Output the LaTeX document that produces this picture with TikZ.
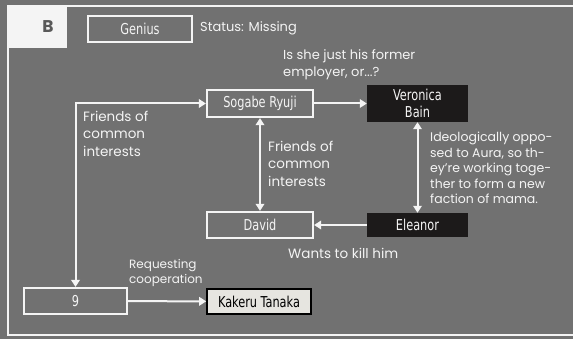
\documentclass[tikz,border=0pt]{standalone}
\usepackage{fontspec}
\setmainfont{Poppins}
\newfontfamily\boxfont[FakeStretch=0.84]{DejaVu Sans Condensed}
\usetikzlibrary{arrows.meta}
\definecolor{panelgray}{HTML}{717171}
\definecolor{inkwhite}{HTML}{F4F4F4}
\definecolor{boxblack}{HTML}{1C1A1A}
\definecolor{paleface}{HTML}{E6E5E0}
\tikzset{
  namebox/.style={draw=inkwhite, line width=2.2pt, text=inkwhite, minimum width=104pt,
    minimum height=26pt, inner sep=0pt, font=\boxfont\fontsize{15}{16}\selectfont},
  darkbox/.style={fill=boxblack, text=inkwhite, minimum width=101pt, inner sep=0pt,
    align=center, font=\boxfont\fontsize{15}{17}\selectfont},
  note/.style={text=inkwhite, anchor=west, align=left, inner sep=0pt},
  link/.style={draw=inkwhite, line width=2pt, -{Triangle[length=7pt,width=8.5pt]}},
  twoway/.style={link, {Triangle[length=7pt,width=8.5pt]}-{Triangle[length=7pt,width=8.5pt]}}
}
\begin{document}
\begin{tikzpicture}[x=1pt, y=-1pt]

% Panel
\fill [panelgray] (0,0) rectangle (573,339);
\useasboundingbox (0,0) rectangle (573,339);
\draw [inkwhite, line width=2pt] (573,6) -- (8,6) -- (8,335) -- (573,335);
\fill [inkwhite] (8,6) rectangle (67,48);
\node (tab) [text=black!65, font=\bfseries\fontsize{17}{17}\selectfont] at (48,27) {B};

% Header
\node (genius) [namebox] at (140,29) {Genius};
\node (status) [note, font=\fontsize{13}{15}\selectfont] at (200,28) {Status: Missing};
\node (question) [note, font=\fontsize{13}{17}\selectfont] at (283,64.5) {Is she just his former\\employer, or...?};

% People
\node (sogabe) [namebox, minimum width=106pt, minimum height=27pt] at (260,103.5) {Sogabe Ryuji};
\node (veronica) [darkbox, minimum height=37pt] at (417.5,103.5) {Veronica\\Bain};
\node (david) [namebox, minimum width=106pt] at (260,225) {David};
\node (eleanor) [darkbox, minimum height=24pt] at (417.5,225) {Eleanor};
\node (nine) [namebox, minimum width=103pt] at (75.5,301) {9};
\node (kakeru) [namebox, draw=black, fill=paleface, text=black, line width=1.6pt,
  minimum height=25pt] at (259,301.5) {Kakeru Tanaka};

% Links
\draw [link] (sogabe) -- (veronica);
\draw [twoway] (nine.north) |- (sogabe.west);
\draw [twoway] (sogabe) -- (david);
\draw [twoway] (veronica) -- (eleanor);
\draw [link] (eleanor) -- (david);
\draw [link] (nine) -- (kakeru);

% Notes
\node (friendsleft) [note, font=\fontsize{13.5}{17.5}\selectfont] at (83,133.5) {Friends of\\common\\interests};
\node (friendsmid) [note, font=\fontsize{13.5}{17.5}\selectfont] at (268,163.5) {Friends of\\common\\interests};
\node (ideology) [note, font=\fontsize{12.5}{15.5}\selectfont] at (430,168) {Ideologically oppo-\\sed to Aura, so th-\\ey're working toge-\\ther to form a new\\faction of mama.};
\node (wants) [note, font=\fontsize{13.5}{15}\selectfont] at (288,253) {Wants to kill him};
\node (requesting) [note, font=\fontsize{12}{15}\selectfont] at (129,272.5) {Requesting\\cooperation};

\end{tikzpicture}
\end{document}
